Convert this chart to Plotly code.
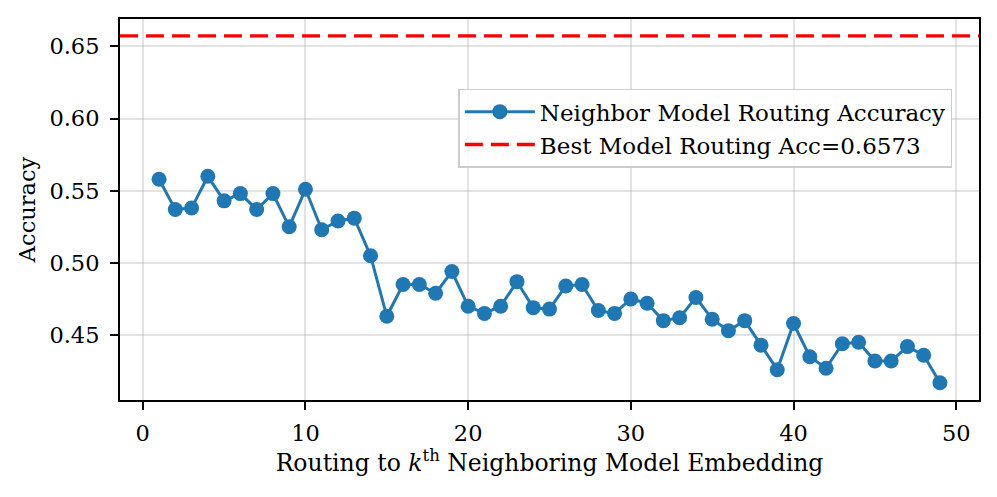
import plotly.graph_objects as go

k_values = list(range(1, 50))
accuracy = [0.558, 0.537, 0.538, 0.560, 0.543, 0.548, 0.537, 0.548, 0.525, 0.551,
            0.523, 0.529, 0.531, 0.505, 0.463, 0.485, 0.485, 0.479, 0.494, 0.470,
            0.465, 0.470, 0.487, 0.469, 0.468, 0.484, 0.485, 0.467, 0.465, 0.475,
            0.472, 0.460, 0.462, 0.476, 0.461, 0.453, 0.460, 0.443, 0.426, 0.458,
            0.435, 0.427, 0.444, 0.445, 0.432, 0.432, 0.442, 0.436, 0.417]
best_acc = 0.6573
x_ticks = [0, 10, 20, 30, 40, 50]
y_ticks = [0.45, 0.50, 0.55, 0.60, 0.65]

FONT = "DejaVu Serif"
FS = 22.5
blue = "#1f77b4"

fig = go.Figure()
fig.add_trace(go.Scatter(
    x=k_values, y=accuracy, mode="lines+markers",
    name="Neighbor Model Routing Accuracy",
    line=dict(color=blue, width=3),
    marker=dict(color=blue, size=15),
))
fig.add_trace(go.Scatter(
    x=[-1.4, 51.4], y=[best_acc, best_acc], mode="lines",
    name=f"Best Model Routing Acc={best_acc}",
    line=dict(color="red", width=3.4, dash="18px,8px"),
))

# page body has an 8px margin, so the figure is shrunk by 8px and margins offset
fig.update_layout(
    width=989, height=489,
    margin=dict(l=112, r=18, t=9, b=97),
    paper_bgcolor="white", plot_bgcolor="white",
    font=dict(family=FONT, size=FS, color="black"),
    showlegend=True,
    legend=dict(
        x=0.969, y=0.817, xanchor="right", yanchor="top",
        bgcolor="rgba(255,255,255,0.8)", bordercolor="#cccccc", borderwidth=1.5,
        font=dict(family=FONT, size=23),
        itemwidth=70, tracegroupgap=0,
    ),
)
fig.update_xaxes(
    range=[-1.4, 51.4], tickvals=x_ticks,
    showgrid=True, gridcolor="rgba(176,176,176,0.35)", gridwidth=1.5,
    showline=True, linecolor="black", linewidth=2, mirror=True,
    ticks="outside", ticklen=8, tickwidth=2, tickcolor="black",
    tickfont=dict(family=FONT, size=FS), ticklabelstandoff=4,
    zeroline=False,
    title=dict(text="Routing to <i>k</i><sup>th</sup> Neighboring Model Embedding",
               font=dict(family=FONT, size=23.5), standoff=6),
)
fig.update_yaxes(
    range=[0.405, 0.669], tickvals=y_ticks, tickformat=".2f",
    showgrid=True, gridcolor="rgba(176,176,176,0.35)", gridwidth=1.5,
    showline=True, linecolor="black", linewidth=2, mirror=True,
    ticks="outside", ticklen=8, tickwidth=2, tickcolor="black",
    tickfont=dict(family=FONT, size=FS), ticklabelstandoff=6,
    zeroline=False,
    title=dict(text="Accuracy", font=dict(family=FONT, size=FS), standoff=8),
)

fig.write_html("out.html")
